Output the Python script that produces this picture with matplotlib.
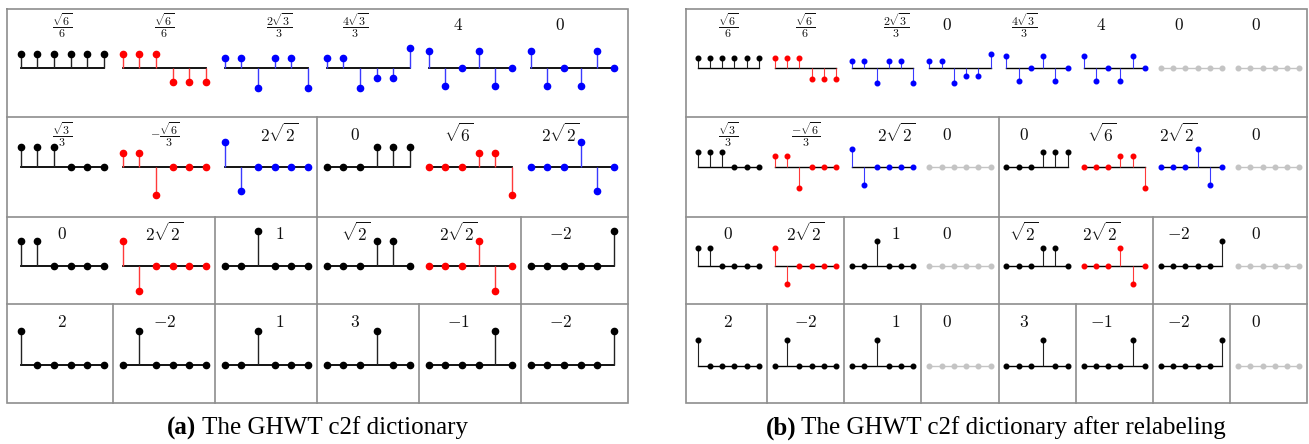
import matplotlib.pyplot as plt
import numpy as np

plt.rcParams['mathtext.fontset'] = 'cm'

W, H = 1309, 444

# ---- data: GHWT c2f basis vectors on a 6-node path
# kinds: s = scaling (black), h = haar (red), w = walsh (blue), z = empty (grey)
a_lev0 = [[0.41, 0.41, 0.41, 0.41, 0.41, 0.41],
          [0.41, 0.41, 0.41, -0.41, -0.41, -0.41],
          [0.29, 0.29, -0.58, 0.29, 0.29, -0.58],
          [0.29, 0.29, -0.58, -0.29, -0.29, 0.58],
          [0.5, -0.5, 0, 0.5, -0.5, 0],
          [0.5, -0.5, 0, -0.5, 0.5, 0]]
a_lev0_kind = ['s', 'h', 'w', 'w', 'w', 'w']
a_lev0_lab = [r'$\dfrac{\sqrt{6}}{6}$', r'$\dfrac{\sqrt{6}}{6}$', r'$\dfrac{2\sqrt{3}}{3}$',
              r'$\dfrac{4\sqrt{3}}{3}$', r'$4$', r'$0$']

a_lev1 = [[0.58, 0.58, 0.58, 0, 0, 0],
          [0.41, 0.41, -0.82, 0, 0, 0],
          [0.71, -0.71, 0, 0, 0, 0],
          [0, 0, 0, 0.58, 0.58, 0.58],
          [0, 0, 0, 0.41, 0.41, -0.82],
          [0, 0, 0, 0.71, -0.71, 0]]
a_lev1_kind = ['s', 'h', 'w', 's', 'h', 'w']
a_lev1_lab = [r'$\dfrac{\sqrt{3}}{3}$', r'$-\dfrac{\sqrt{6}}{3}$', r'$2\sqrt{2}$',
              r'$0$', r'$\sqrt{6}$', r'$2\sqrt{2}$']

a_lev2 = [[0.71, 0.71, 0, 0, 0, 0],
          [0.71, -0.71, 0, 0, 0, 0],
          [0, 0, 1, 0, 0, 0],
          [0, 0, 0, 0.71, 0.71, 0],
          [0, 0, 0, 0.71, -0.71, 0],
          [0, 0, 0, 0, 0, 1]]
a_lev2_kind = ['s', 'h', 's', 's', 'h', 's']
a_lev2_lab = [r'$0$', r'$2\sqrt{2}$', r'$1$', r'$\sqrt{2}$', r'$2\sqrt{2}$', r'$-2$']

a_lev3 = [[1, 0, 0, 0, 0, 0],
          [0, 1, 0, 0, 0, 0],
          [0, 0, 1, 0, 0, 0],
          [0, 0, 0, 1, 0, 0],
          [0, 0, 0, 0, 1, 0],
          [0, 0, 0, 0, 0, 1]]
a_lev3_kind = ['s'] * 6
a_lev3_lab = [r'$2$', r'$-2$', r'$1$', r'$3$', r'$-1$', r'$-2$']

a_cells = [[6], [3, 3], [2, 1, 2, 1], [1, 1, 1, 1, 1, 1]]

zero = [0, 0, 0, 0, 0, 0]

b_lev0 = [a_lev0[0], a_lev0[1], a_lev0[2], a_lev0[3], a_lev0[4], a_lev0[5], zero, zero]
b_lev0_kind = ['s', 'h', 'w', 'w', 'w', 'w', 'z', 'z']
b_lev0_lab = [r'$\dfrac{\sqrt{6}}{6}$', r'$\dfrac{\sqrt{6}}{6}$', r'$\dfrac{2\sqrt{3}}{3}$', r'$0$',
              r'$\dfrac{4\sqrt{3}}{3}$', r'$4$', r'$0$', r'$0$']

b_lev1 = [a_lev1[0], a_lev1[1], a_lev1[2], zero, a_lev1[3], a_lev1[4], a_lev1[5], zero]
b_lev1_kind = ['s', 'h', 'w', 'z', 's', 'h', 'w', 'z']
b_lev1_lab = [r'$\dfrac{\sqrt{3}}{3}$', r'$\dfrac{-\sqrt{6}}{3}$', r'$2\sqrt{2}$', r'$0$',
              r'$0$', r'$\sqrt{6}$', r'$2\sqrt{2}$', r'$0$']

b_lev2 = [a_lev2[0], a_lev2[1], a_lev2[2], zero, a_lev2[3], a_lev2[4], a_lev2[5], zero]
b_lev2_kind = ['s', 'h', 's', 'z', 's', 'h', 's', 'z']
b_lev2_lab = [r'$0$', r'$2\sqrt{2}$', r'$1$', r'$0$', r'$\sqrt{2}$', r'$2\sqrt{2}$',
              r'$-2$', r'$0$']

b_lev3 = [a_lev3[0], a_lev3[1], a_lev3[2], zero, a_lev3[3], a_lev3[4], a_lev3[5], zero]
b_lev3_kind = ['s', 's', 's', 'z', 's', 's', 's', 'z']
b_lev3_lab = [r'$2$', r'$-2$', r'$1$', r'$0$', r'$3$', r'$-1$', r'$-2$', r'$0$']

b_cells = [[8], [4, 4], [2, 2, 2, 2], [1, 1, 1, 1, 1, 1, 1, 1]]

# ---- styles / layout (pixels, y from top)
STYLE = {'s': ('black', '#222222', 'black'),
         'h': ('#ff0000', '#ff3a3a', 'black'),
         'w': ('#0000ff', '#3a3aff', 'black'),
         'z': ('#c4c4c4', '#c4c4c4', '#c4c4c4')}
GRID = '#8e8e8e'
ROW_EDGES = [9, 117, 216.5, 304, 403]
BASES = [68.3, 166.7, 266.0, 365.5]
LAB_Y = [25.5, 134.5, 233.5, 322.0]

fig = plt.figure(figsize=(W / 100, H / 100), dpi=100)
bg = fig.add_axes([0, 0, 1, 1])
bg.set_xlim(0, W)
bg.set_ylim(H, 0)
bg.axis('off')


def stem_plot(vec, kind, cx, base, dx, unit, ms, lw, blw):
    left = cx - 3 * dx
    ax = fig.add_axes([left / W, 1 - (base + 1.2 * unit) / H, 6 * dx / W, 2.4 * unit / H])
    ax.set_xlim(-0.5, 5.5)
    ax.set_ylim(-1.2, 1.2)
    ax.axis('off')
    mc, sc, bc = STYLE[kind]
    ml, sl, bl = ax.stem(np.arange(6), vec, basefmt='-')
    ml.set_color(mc)
    ml.set_markersize(ms)
    ml.set_zorder(3)
    sl.set_color(sc)
    sl.set_linewidth(lw)
    sl.set_zorder(2)
    bl.set_color(bc)
    bl.set_linewidth(blw)
    bl.set_zorder(1)
    for art in (ml, sl, bl):
        art.set_clip_on(False)


def panel(levels, cells, x_left, x_right, c0, step, dx, unit, ms, lw, blw, lab_dx):
    ncol = len(cells[-1])
    centers = [c0 + step * k for k in range(ncol)]
    mids = [(centers[k] + centers[k + 1]) / 2 for k in range(ncol - 1)]
    # outer box and row dividers
    bg.plot([x_left, x_right, x_right, x_left, x_left],
            [ROW_EDGES[0], ROW_EDGES[0], ROW_EDGES[-1], ROW_EDGES[-1], ROW_EDGES[0]],
            color=GRID, lw=1.2, solid_joinstyle='miter')
    for y in ROW_EDGES[1:-1]:
        bg.plot([x_left, x_right], [y, y], color=GRID, lw=1.2)
    for r, (vecs, kinds, labs) in enumerate(levels):
        k = 0
        for w in cells[r][:-1]:
            k += w
            bg.plot([mids[k - 1]] * 2, [ROW_EDGES[r], ROW_EDGES[r + 1]], color=GRID, lw=1.2)
        for c, (v, kd, lab) in enumerate(zip(vecs, kinds, labs)):
            stem_plot(v, kd, centers[c], BASES[r], dx, unit, ms, lw, blw)
            fs = 8.6 if 'frac' in lab else 12.5
            bg.text(centers[c] + lab_dx[c], LAB_Y[r], lab, ha='center', va='center',
                    fontsize=fs, color='#111111')


panel([(a_lev0, a_lev0_kind, a_lev0_lab), (a_lev1, a_lev1_kind, a_lev1_lab),
       (a_lev2, a_lev2_kind, a_lev2_lab), (a_lev3, a_lev3_kind, a_lev3_lab)],
      a_cells, 7, 628, 62.3, 102.0, 16.66, 34.6, 4.5, 1.0, 1.3,
      [0, 0, 13, -13, -12, -12])

panel([(b_lev0, b_lev0_kind, b_lev0_lab), (b_lev1, b_lev1_kind, b_lev1_lab),
       (b_lev2, b_lev2_kind, b_lev2_lab), (b_lev3, b_lev3_kind, b_lev3_lab)],
      b_cells, 685.7, 1306.5, 728.3, 77.2, 12.26, 25.5, 3.3, 0.8, 1.0,
      [0, 0, 13, -13, -13, -13, -13, -13])


def caption(xc, y, tag, rest):
    t1 = bg.text(0, y, tag, fontweight='bold', family='Liberation Serif',
                 fontsize=18, va='center', ha='left')
    t2 = bg.text(0, y, rest, family='Liberation Serif', fontsize=18,
                 va='center', ha='left')
    rend = fig.canvas.get_renderer()
    w1 = t1.get_window_extent(rend).width
    w2 = t2.get_window_extent(rend).width
    gap = 5
    x0 = xc - (w1 + gap + w2) / 2
    t1.set_x(x0)
    t2.set_x(x0 + w1 + gap)


caption(317.5, 428, '(a)', 'The GHWT c2f dictionary')
caption(996, 428, '(b)', 'The GHWT c2f dictionary after relabeling')

fig.savefig('out.png', dpi=100)
